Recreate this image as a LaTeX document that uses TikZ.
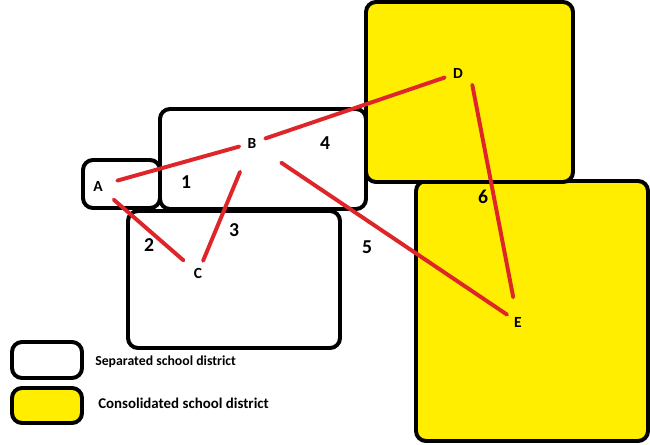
\documentclass[tikz,border=0pt]{standalone}
\usepackage{fontspec}
\setmainfont{Carlito}
\definecolor{roadred}{RGB}{222,38,42}
\definecolor{consyellow}{RGB}{255,238,0}
\begin{document}
\begin{tikzpicture}[x=0.025cm,y=-0.025cm,
  district/.style={draw=black,line width=2.8pt,rounded corners=0.25cm},
  road/.style={draw=roadred,line width=2.8pt,line cap=round},
  town/.style={font=\bfseries\fontsize{11}{13}\selectfont,inner sep=0pt},
  roadnum/.style={font=\bfseries\fontsize{14}{16}\selectfont,inner sep=0pt},
  legendtext/.style={font=\bfseries\fontsize{9.8}{11}\selectfont,anchor=west,inner sep=0pt}]
\useasboundingbox (0,0) rectangle (650,445);

% districts
\draw[district] (83,160) rectangle (160,208);
\draw[district] (160,109) rectangle (366,209);
\draw[district] (128,211) rectangle (340,348);
\draw[district,fill=consyellow] (416,181) rectangle (648,441);
\draw[district,fill=consyellow] (366,2) rectangle (573,182);

% towns
\node[town] (A) at (98,186) {A};
\node[town] (B) at (252,143) {B};
\node[town] (C) at (198,273) {C};
\node[town] (D) at (458,73) {D};
\node[town] (E) at (518,322) {E};

% roads
\draw[road,shorten <=0.5cm,shorten >=0.33cm] (A.center) -- (B.center);
\draw[road,shorten <=0.35cm,shorten >=0.35cm] (B.center) -- (D.center);
\draw[road,shorten <=0.52cm,shorten >=0.48cm] (A.center) -- (C.center);
\draw[road,shorten <=0.33cm,shorten >=0.78cm] (C.center) -- (B.center);
\draw[road,shorten <=0.88cm,shorten >=0.33cm] (B.center) -- (E.center);
\draw[road,shorten <=0.3cm,shorten >=0.63cm] ([xshift=0.3cm]D.center) -- (E.center);

\node[roadnum] (n1) at (186,182) {1};
\node[roadnum] (n2) at (149,245) {2};
\node[roadnum] (n3) at (234,230) {3};
\node[roadnum] (n4) at (325,143) {4};
\node[roadnum] (n5) at (367,247) {5};
\node[roadnum] (n6) at (483,197) {6};

% legend
\draw[district] (12,342) rectangle (82,378);
\draw[district,fill=consyellow] (12,388) rectangle (82,423);
\node[legendtext] (sep) at (95,362) {Separated school district};
\node[legendtext,font=\bfseries\fontsize{10.6}{12}\selectfont] (cons) at (98,403) {Consolidated school district};
\end{tikzpicture}
\end{document}
